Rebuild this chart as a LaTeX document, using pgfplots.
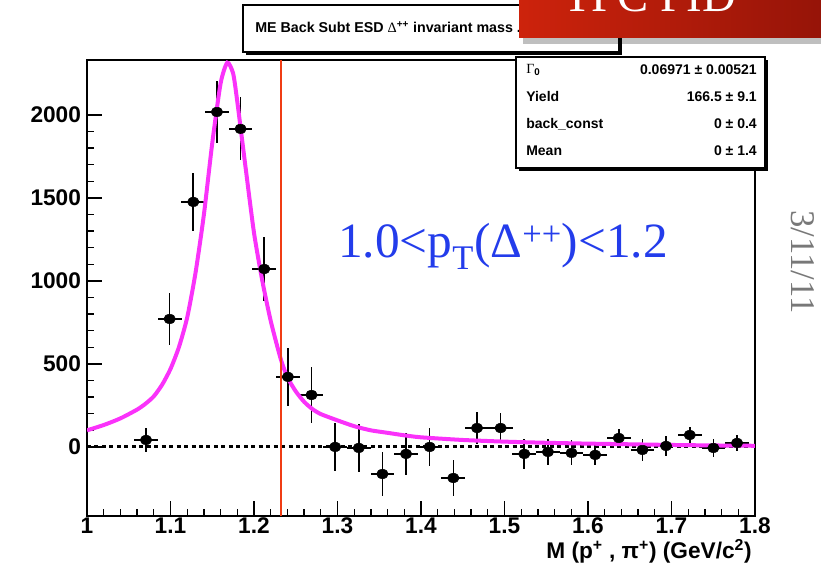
\documentclass[border=0pt]{standalone}
\usepackage{pgfplots}
\pgfplotsset{compat=1.18}
\usepackage{pgfplotstable}
\usepackage{fontspec}
\setmainfont{Liberation Sans}
\newfontfamily\seriffont{Liberation Serif}
\definecolor{fitmag}{RGB}{250,50,250}
\definecolor{vline}{RGB}{240,60,20}
\definecolor{txtblue}{RGB}{35,60,235}
\definecolor{redA}{RGB}{205,35,12}
\definecolor{redB}{RGB}{150,20,8}

\pgfplotstableread{
x y ex ey
1.0707 42 0.0142 70
1.0990 771 0.0142 155
1.1273 1476 0.0142 175
1.1556 2018 0.0142 185
1.1839 1916 0.0142 190
1.2123 1072 0.0142 190
1.2406 422 0.0142 175
1.2689 313 0.0142 170
1.2972 0 0.0142 145
1.3255 -6 0.0142 145
1.3538 -163 0.0142 135
1.3821 -42 0.0142 125
1.4104 0 0.0142 115
1.4387 -187 0.0142 110
1.4671 114 0.0142 95
1.4954 114 0.0142 90
1.5237 -42 0.0142 90
1.5520 -30 0.0142 80
1.5803 -36 0.0142 75
1.6086 -48 0.0142 60
1.6369 54 0.0142 55
1.6652 -18 0.0142 65
1.6935 6 0.0142 60
1.7219 72 0.0142 50
1.7502 -6 0.0142 55
1.7785 24 0.0142 50
}\datatab

\pgfplotstableread{
x y
1.00 100
1.02 132
1.04 172
1.06 225
1.07 260
1.08 305
1.09 375
1.10 470
1.11 600
1.12 780
1.13 1050
1.14 1400
1.15 1830
1.16 2190
1.168 2315
1.175 2250
1.18 2080
1.19 1680
1.20 1290
1.21 1000
1.22 760
1.232 530
1.24 420
1.25 335
1.26 272
1.27 228
1.28 198
1.30 160
1.32 125
1.34 100
1.36 85
1.38 70
1.40 58
1.45 42
1.50 32
1.55 25
1.60 20
1.65 16
1.70 12
1.75 9
1.80 7
}\fittab

\begin{document}
\begin{tikzpicture}
\useasboundingbox (0,0) rectangle (615.75pt,425.25pt);
\begin{axis}[
  at={(65.25pt,38.25pt)}, anchor=south west,
  scale only axis, width=501pt, height=342pt,
  xmin=1, xmax=1.8, ymin=-416, ymax=2331,
  xtick={1,1.1,1.2,1.3,1.4,1.5,1.6,1.7,1.8},
  minor x tick num=4,
  ytick={0,500,1000,1500,2000},
  minor y tick num=4,
  xtick pos=bottom, ytick pos=left, tick align=inside,
  major tick length=11pt, minor tick length=5.5pt,
  axis line style={line width=1.4pt},
  tick style={black, line width=1pt},
  tick label style={font=\fontsize{17}{17}\selectfont\bfseries},
  /pgf/number format/assume math mode=true,
  /pgf/number format/1000 sep={},
  xticklabel style={/pgf/number format/fixed, /pgf/number format/precision=1, yshift=2pt},
  yticklabel style={xshift=-1pt},
  scaled ticks=false,
]
\addplot[black, line width=2.3pt, dash pattern=on 3pt off 2.6pt] coordinates {(1,0) (1.8,0)};
\addplot[only marks, mark=*, mark size=3.5pt, mark options={xscale=1.25}, black,
  error bars/.cd, x dir=both, x explicit, y dir=both, y explicit, error mark=none,
  error bar style={line width=1.2pt}]
  table[x=x, y=y, x error=ex, y error=ey]{\datatab};
\addplot[fitmag, line width=3pt, smooth, tension=0.4] table[x=x, y=y]{\fittab};
\addplot[vline, line width=1.2pt] coordinates {(1.232,-416) (1.232,2331)};
\end{axis}

\begin{scope}[yshift=425.25pt, x=0.75pt, y=-0.75pt]
% x axis title
\node[anchor=east, inner sep=0, font=\fontsize{17}{17}\selectfont\bfseries] at (752,551)
  {M (p\textsuperscript{+} , π\textsuperscript{+}) (GeV/c\textsuperscript{2})};

% title box
\fill[black] (246,8) rectangle (622,55);
\filldraw[fill=white, draw=black, line width=0.8pt] (243,5) rectangle (619,52);
\node[anchor=west, inner sep=0, font=\fontsize{10.7}{11}\selectfont\bfseries] at (255,27)
  {ME Back Subt ESD {\seriffont\mdseries Δ}\textsuperscript{++} invariant mass .};

% stats box
\fill[black] (519,60) rectangle (768,171);
\filldraw[fill=white, draw=black, line width=1pt] (516,57) rectangle (765,168);
\begin{scope}[every node/.style={inner sep=0, font=\fontsize{10.5}{11}\selectfont\bfseries}]
\node[anchor=west] at (526,70) {{\seriffont\mdseries Γ}\textsubscript{0}};
\node[anchor=east] at (757,70) {0.06971 ± 0.00521};
\node[anchor=west] at (526,97) {Yield};
\node[anchor=east] at (757,97) {166.5 ± 9.1};
\node[anchor=west] at (526,124) {back\_const};
\node[anchor=east] at (757,124) {0 ± 0.4};
\node[anchor=west] at (526,151) {Mean};
\node[anchor=east] at (757,151) {0 ± 1.4};
\end{scope}

% red overlay box
\fill[black, opacity=0.25] (523,3) rectangle (825,44);
\shade[left color=redA, right color=redB] (519,-5) rectangle (821,38);
\node[anchor=base west, inner sep=0, text=white, font=\seriffont\fontsize{35}{35}\selectfont] at (563,12) {TPC PID};

% blue annotation
\node[anchor=base west, inner sep=0, text=txtblue, font=\seriffont\fontsize{37}{40}\selectfont] at (338,258)
  {1.0<p\textsubscript{T}(Δ\textsuperscript{++})<1.2};

% date
\node[rotate=-90, inner sep=0, text={rgb,255:red,120;green,120;blue,120}, font=\seriffont\fontsize{26}{26}\selectfont] at (803,262) {3/11/11};
\end{scope}
\end{tikzpicture}
\end{document}
